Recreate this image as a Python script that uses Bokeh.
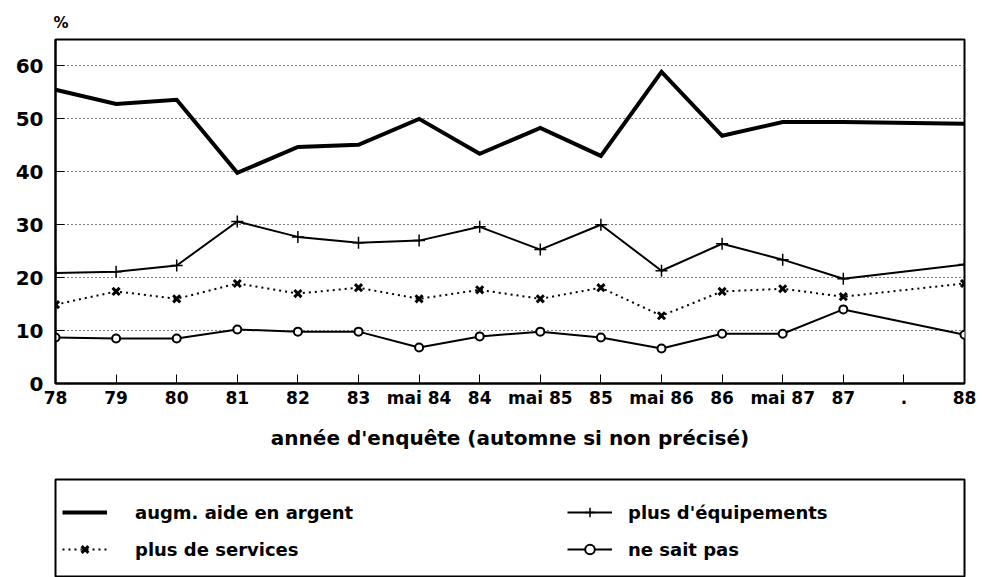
from bokeh.plotting import figure
from bokeh.models import FixedTicker, Legend, LegendItem, Range1d
from bokeh.layouts import column
from bokeh.embed import file_html
from bokeh.resources import INLINE

categories = ["78", "79", "80", "81", "82", "83", "mai 84", "84", "mai 85", "85",
              "mai 86", "86", "mai 87", "87", ".", "88"]
surveys = ["78", "79", "80", "81", "82", "83", "mai 84", "84", "mai 85", "85",
           "mai 86", "86", "mai 87", "87", "88"]
aide_argent = [55.5, 52.8, 53.6, 39.8, 44.7, 45.1, 50.0, 43.4, 48.3, 43.0, 58.9, 46.8, 49.4, 49.4, 49.1]
equipements = [20.9, 21.1, 22.3, 30.6, 27.7, 26.6, 27.0, 29.6, 25.3, 30.0, 21.3, 26.4, 23.4, 19.8, 22.5]
services = [14.9, 17.4, 16.0, 18.9, 17.0, 18.1, 16.0, 17.7, 16.0, 18.1, 12.8, 17.4, 17.9, 16.4, 18.9]
ne_sait_pas = [8.7, 8.5, 8.5, 10.2, 9.8, 9.8, 6.8, 8.9, 9.8, 8.7, 6.6, 9.4, 9.4, 14.0, 9.2]
y_ticks = [0, 10, 20, 30, 40, 50, 60]

xs = [categories.index(c) for c in surveys]

FONT = "DejaVu Sans"

p = figure(width=984, height=474, output_backend="svg", toolbar_location=None,
           x_range=Range1d(0, len(categories) - 1), y_range=Range1d(0, 65),
           min_border_left=55, min_border_right=20, min_border_top=39, min_border_bottom=91)
p.outline_line_color = "black"
p.outline_line_width = 2
p.background_fill_color = "white"
p.border_fill_color = "white"

p.title.text = "%"
p.title.align = "left"
p.title.offset = -2
p.title.standoff = 15
p.title.text_font = FONT
p.title.text_font_style = "bold"
p.title.text_font_size = "15px"
p.title.text_color = "black"

# axes
p.xaxis.ticker = FixedTicker(ticks=list(range(len(categories))))
p.xaxis.major_label_overrides = {i: c for i, c in enumerate(categories)}
p.yaxis.ticker = FixedTicker(ticks=y_ticks)
for ax in (p.xaxis, p.yaxis):
    ax.axis_line_color = "black"
    ax.axis_line_width = 2
    ax.major_tick_line_color = "black"
    ax.major_tick_line_width = 1
    ax.major_tick_in = 9
    ax.major_tick_out = 0
    ax.minor_tick_line_color = None
    ax.major_label_text_font = FONT
    ax.major_label_text_font_style = "bold"
    ax.major_label_text_color = "black"
p.yaxis.major_label_text_font_size = "20px"
p.yaxis.major_label_standoff = 12
p.xaxis.major_label_text_font_size = "17px"
p.xaxis.major_label_standoff = 4
p.xaxis.axis_label = "année d'enquête (automne si non précisé)"
p.xaxis.axis_label_text_font = FONT
p.xaxis.axis_label_text_font_style = "bold"
p.xaxis.axis_label_text_font_size = "20px"
p.xaxis.axis_label_text_color = "black"
p.xaxis.axis_label_standoff = 15

p.xgrid.grid_line_color = None
p.ygrid.grid_line_color = "black"
p.ygrid.grid_line_dash = "1 3"
p.ygrid.grid_line_width = 1
p.ygrid.ticker = FixedTicker(ticks=y_ticks[1:])


def draw_series(fig):
    r_aide = fig.line(xs, aide_argent, line_color="black", line_width=4, line_join="miter")
    r_equip = fig.line(xs, equipements, line_color="black", line_width=2)
    m_equip = fig.scatter(xs, equipements, marker="cross", size=12, line_color="black", line_width=1.5)
    r_serv = fig.line(xs, services, line_color="black", line_width=2, line_dash="2 4")
    m_serv = fig.scatter(xs, services, marker="x", size=10, line_color="black", line_width=3)
    r_nsp = fig.line(xs, ne_sait_pas, line_color="black", line_width=2)
    m_nsp = fig.scatter(xs, ne_sait_pas, marker="circle", size=8, line_color="black",
                        fill_color="white", line_width=2)
    return r_aide, (r_equip, m_equip), (r_serv, m_serv), (r_nsp, m_nsp)


draw_series(p)

# legend panel: a second figure whose frame is the legend box
q = figure(width=984, height=103, output_backend="svg", toolbar_location=None,
           x_axis_type=None, y_axis_type=None,
           x_range=Range1d(-200, -199), y_range=Range1d(-200, -199),
           min_border_left=55, min_border_right=20, min_border_top=5, min_border_bottom=0)
q.outline_line_color = "black"
q.outline_line_width = 2
q.xgrid.grid_line_color = None
q.ygrid.grid_line_color = None
q.border_fill_color = "white"
q.background_fill_color = "white"

l_aide, l_equip, l_serv, l_nsp = draw_series(q)


def make_legend(items, x, standoff):
    return Legend(items=items, location=(x, 16), orientation="vertical",
                  padding=0, spacing=13, glyph_width=45, glyph_height=24,
                  label_height=24, label_standoff=standoff,
                  label_text_font=FONT, label_text_font_style="bold",
                  label_text_font_size="18px", label_text_color="black",
                  background_fill_alpha=0.0, border_line_color=None, margin=0)


leg_a = make_legend([LegendItem(label="augm. aide en argent", renderers=[l_aide]),
                     LegendItem(label="plus de services", renderers=list(l_serv))], 7, 28)
leg_b = make_legend([LegendItem(label="plus d'équipements", renderers=list(l_equip)),
                     LegendItem(label="ne sait pas", renderers=list(l_nsp))], 512, 16)
q.add_layout(leg_a, "center")
q.add_layout(leg_b, "center")

layout = column(p, q, spacing=0)
open("out.html", "w").write(file_html(layout, INLINE))
